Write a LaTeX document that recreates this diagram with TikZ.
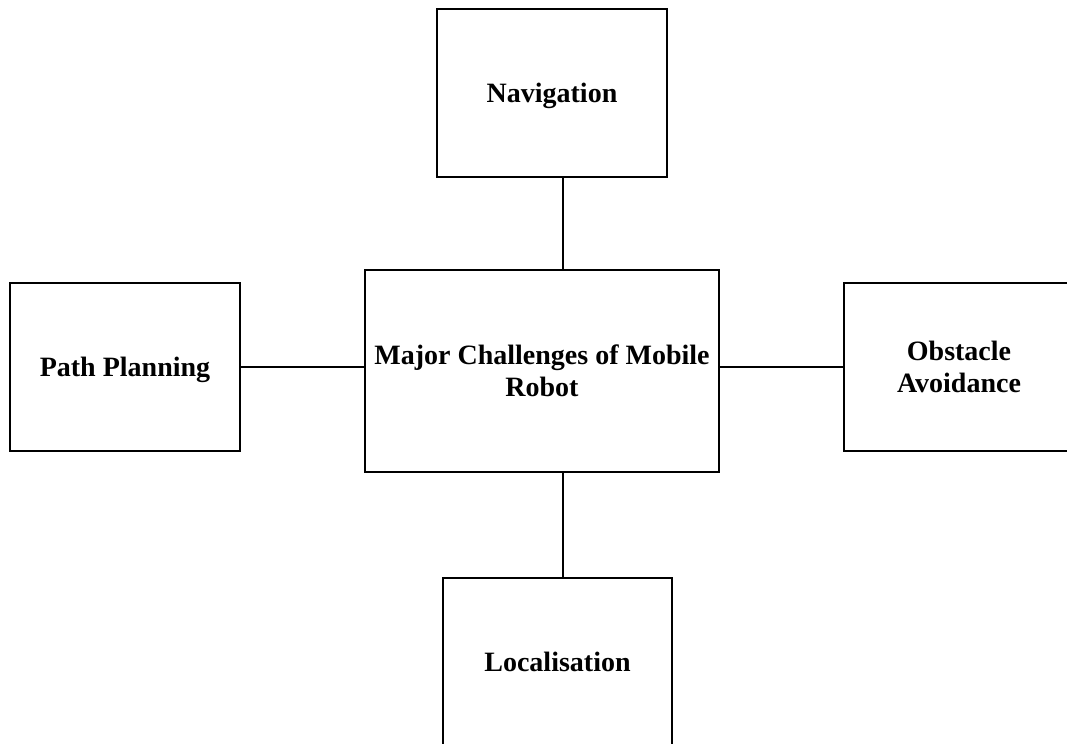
\documentclass[tikz,border=0pt]{standalone}
\usepackage{fontspec}
\setmainfont{Liberation Serif}
\begin{document}
\begin{tikzpicture}[x=0.5pt,y=-0.5pt,
  box/.style={draw, line width=0.9pt, rectangle, inner sep=0pt, align=center,
    text depth=0pt, font=\fontsize{14pt}{16pt}\selectfont\bfseries},
  small/.style={box, minimum width=115pt, minimum height=84pt},
  link/.style={line width=0.9pt}]
  \useasboundingbox (0,0) rectangle (1067,744);
  \clip (0,0) rectangle (1067,744);
  % central node and the four challenges around it
  \node[box, minimum width=177pt, minimum height=101pt] (hub) at (542,371)
    {Major Challenges of Mobile\\Robot};
  \node[small] (nav)  at (552,93)    {Navigation};
  \node[small] (path) at (125,367)   {Path Planning};
  \node[small] (obst) at (959,367)   {Obstacle\\Avoidance};
  \node[small, minimum width=114.5pt] (loc) at (557.5,662) {Localisation};
  % connectors
  \draw[link] (nav.south -| 563,0) -- (hub.north -| 563,0);
  \draw[link] (hub.south -| 563,0) -- (loc.north -| 563,0);
  \draw[link] (path.east) -- (path.east -| hub.west);
  \draw[link] (obst.west) -- (obst.west -| hub.east);
\end{tikzpicture}
\end{document}
